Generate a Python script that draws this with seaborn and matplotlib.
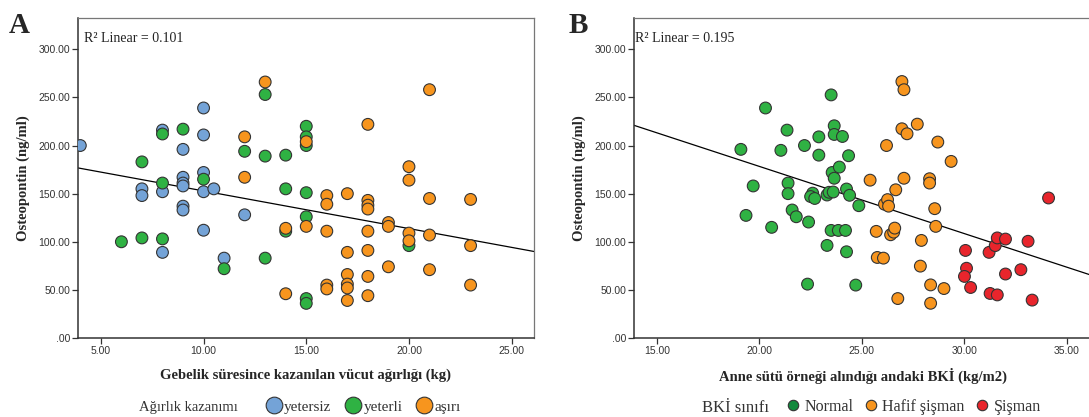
import matplotlib
matplotlib.use("Agg")
import numpy as np
import pandas as pd
import matplotlib.pyplot as plt
from matplotlib.lines import Line2D
from matplotlib.ticker import FuncFormatter
import seaborn as sns

# Panel A: gebelikte kazanilan kilo (kg) - osteopontin (ng/ml)
A_YETERSIZ_X = [4, 7, 7, 8, 8, 8, 9, 9, 9, 9, 9, 9, 10, 10, 10, 10, 10, 10.5, 11, 12]
A_YETERSIZ_Y = [200, 155, 148, 216, 152, 89, 196, 167, 161, 158, 137, 133,
                239, 211, 172, 152, 112, 155, 83, 128]
A_YETERLI_X = [6, 7, 7, 8, 8, 8, 9, 10, 11, 12, 13, 13, 13, 14, 14, 14,
               15, 15, 15, 15, 15, 15, 15, 20]
A_YETERLI_Y = [100, 183, 104, 212, 161, 103, 217, 165, 72, 194, 253, 189, 83,
               190, 155, 111, 220, 209, 200, 151, 126, 41, 36, 96]
A_ASIRI_X = [12, 12, 13, 14, 14, 15, 15, 16, 16, 16, 16, 16, 17, 17, 17, 17, 17, 17,
             18, 18, 18, 18, 18, 18, 18, 18, 19, 19, 19, 20, 20, 20, 20,
             21, 21, 21, 21, 23, 23, 23]
A_ASIRI_Y = [209, 167, 266, 114, 46, 204, 116, 148, 139, 111, 55, 51, 150, 89, 66, 56, 52, 39,
             222, 143, 138, 134, 111, 91, 64, 44, 120, 116, 74, 178, 164, 109, 101,
             258, 145, 107, 71, 144, 96, 55]
A_GROUPS = ['yetersiz', 'yeterli', 'aşırı']
A_R2 = 0.101

# Panel B: anne sutu orneginde BKI (kg/m2) - osteopontin (ng/ml)
B_NORMAL_X = [19.1, 19.7, 20.3, 21.05, 21.35, 21.4, 21.4, 21.6, 22.2, 22.9, 22.9,
              22.6, 22.5, 22.7, 23.3, 23.4, 23.6, 23.5, 23.65, 23.65, 24.05, 23.55,
              23.65, 23.9, 24.35, 24.25, 24.4, 24.85, 19.35, 20.6, 21.8, 22.4,
              23.5, 23.85, 24.2, 23.3, 24.25, 22.35, 24.7]
B_NORMAL_Y = [196, 158, 239, 195, 216, 161, 150, 133, 200, 209, 190,
              150.5, 147, 145, 148.6, 151.4, 151.7, 252.6, 220.5, 211.5, 209.4, 172,
              166, 177.6, 189.4, 154.8, 148.3, 137.5, 127.4, 115, 126, 120.5,
              111.8, 111.8, 111.8, 96.2, 89.6, 56, 55]
B_HAFIF_X = [25.4, 26.2, 26.1, 26.25, 26.3, 26.65, 27.05, 26.95, 27.05, 26.95, 27.2,
             27.7, 28.7, 29.35, 28.3, 28.3, 28.55, 25.7, 26.4, 26.55, 26.6, 25.75,
             26.05, 27.9, 27.85, 28.6, 28.35, 29.0, 26.75, 28.35]
B_HAFIF_Y = [164, 200, 139, 143.8, 137, 154, 166, 266.5, 258, 217.4, 212.2,
             222.2, 203.6, 183.5, 165.5, 161, 134.4, 110.8, 107.3, 110, 114.2, 83.7,
             83, 101.4, 74.7, 116, 55.2, 51.4, 41, 36.1]
B_SISMAN_X = [34.1, 30.05, 30.1, 30.0, 30.3, 31.2, 31.5, 31.6, 32.0, 33.1,
              32.0, 32.75, 31.25, 31.6, 33.3]
B_SISMAN_Y = [145.5, 91, 72.5, 64, 52.5, 89, 96, 104, 102.8, 100.5,
              66.5, 71, 46.3, 44.8, 39.4]
B_GROUPS = ['Normal', 'Hafif şişman', 'Şişman']
B_R2 = 0.195

Y_TICKS = [0, 50, 100, 150, 200, 250, 300]
A_X_TICKS = [5, 10, 15, 20, 25]
B_X_TICKS = [15, 20, 25, 30, 35]

C_BLUE = '#74a3d7'
C_GREEN = '#2fb243'
C_ORANGE = '#f7951e'
C_RED = '#e8252c'
EDGE = '#333333'

df_a = pd.DataFrame({
    'kilo': A_YETERSIZ_X + A_YETERLI_X + A_ASIRI_X,
    'opn': A_YETERSIZ_Y + A_YETERLI_Y + A_ASIRI_Y,
    'grup': [A_GROUPS[0]] * len(A_YETERSIZ_X) + [A_GROUPS[1]] * len(A_YETERLI_X)
            + [A_GROUPS[2]] * len(A_ASIRI_X),
})
df_b = pd.DataFrame({
    'bki': B_NORMAL_X + B_HAFIF_X + B_SISMAN_X,
    'opn': B_NORMAL_Y + B_HAFIF_Y + B_SISMAN_Y,
    'grup': [B_GROUPS[0]] * len(B_NORMAL_X) + [B_GROUPS[1]] * len(B_HAFIF_X)
            + [B_GROUPS[2]] * len(B_SISMAN_X),
})

sns.set_style("white")
plt.rcParams['font.family'] = ['Liberation Serif', 'DejaVu Serif']

SERIF = ['Liberation Serif', 'DejaVu Serif']
SANS = ['Liberation Sans', 'DejaVu Sans']


def fmt_spss(v, pos):
    return '.00' if v == 0 else f'{v:.2f}'


def style_axes(ax, xticks, xlim, xlabel):
    ax.set_xlim(*xlim)
    ax.set_ylim(0, 333)
    ax.set_xticks(xticks)
    ax.set_yticks(Y_TICKS)
    ax.xaxis.set_major_formatter(FuncFormatter(fmt_spss))
    ax.yaxis.set_major_formatter(FuncFormatter(fmt_spss))
    ax.tick_params(axis='both', direction='out', length=4, width=0.9, color='#333333',
                   labelsize=7.5, labelcolor='#333333', pad=1.5,
                   bottom=True, left=True, top=False, right=False)
    for lab in ax.get_xticklabels() + ax.get_yticklabels():
        lab.set_family(SANS)
    for side in ['left', 'bottom']:
        ax.spines[side].set_color('#333333')
        ax.spines[side].set_linewidth(1.1)
    for side in ['top', 'right']:
        ax.spines[side].set_color('#777777')
        ax.spines[side].set_linewidth(0.9)
    ax.set_xlabel(xlabel, fontsize=10.5, fontweight='bold', family=SERIF, labelpad=9)
    ax.set_ylabel('Osteopontin (ng/ml)', fontsize=10.5, fontweight='bold', family=SERIF,
                  labelpad=6)
    ax.grid(False)


fig = plt.figure(figsize=(10.89, 4.17), dpi=100)
ax_a = fig.add_axes([0.0713, 0.1894, 0.4193, 0.7686])
ax_b = fig.add_axes([0.5822, 0.1894, 0.4206, 0.7686])

# --- A ---
ax_a.set_xlim(3.87, 26.1)
sns.regplot(data=df_a, x='kilo', y='opn', ax=ax_a, scatter=False, ci=None,
            truncate=False, line_kws={'color': 'black', 'lw': 0.9})
sns.scatterplot(data=df_a, x='kilo', y='opn', hue='grup', hue_order=A_GROUPS,
                palette=[C_BLUE, C_GREEN, C_ORANGE], s=72, edgecolor=EDGE,
                linewidth=0.8, alpha=1, legend=False, ax=ax_a, zorder=3)
style_axes(ax_a, A_X_TICKS, (3.87, 26.1), 'Gebelik süresince kazanılan vücut ağırlığı (kg)')
ax_a.text(0.015, 0.955, f'R² Linear = {A_R2}', transform=ax_a.transAxes,
          fontsize=10, family=SERIF, va='top', ha='left', color='#222222')

# --- B ---
ax_b.set_xlim(13.89, 36.22)
sns.regplot(data=df_b, x='bki', y='opn', ax=ax_b, scatter=False, ci=None,
            truncate=False, line_kws={'color': 'black', 'lw': 0.9})
sns.scatterplot(data=df_b, x='bki', y='opn', hue='grup', hue_order=B_GROUPS,
                palette=[C_GREEN, C_ORANGE, C_RED], s=72, edgecolor=EDGE,
                linewidth=0.8, alpha=1, legend=False, ax=ax_b, zorder=3)
style_axes(ax_b, B_X_TICKS, (13.89, 36.22), 'Anne sütü örneği alındığı andaki BKİ (kg/m2)')
ax_b.text(0.003, 0.955, f'R² Linear = {B_R2}', transform=ax_b.transAxes,
          fontsize=10, family=SERIF, va='top', ha='left', color='#222222')

# panel harfleri
fig.text(0.008, 0.94, 'A', fontsize=21, fontweight='bold', family=SERIF, va='center')
fig.text(0.522, 0.94, 'B', fontsize=21, fontweight='bold', family=SERIF, va='center')

# legend A
fig.text(0.128, 0.022, 'Ağırlık kazanımı', fontsize=10.5, family=SERIF, va='center',
         color='#333333')
h_a = [Line2D([], [], marker='o', ls='', markersize=12, markerfacecolor=c,
              markeredgecolor=EDGE, markeredgewidth=0.8)
       for c in [C_BLUE, C_GREEN, C_ORANGE]]
leg_a = fig.legend(h_a, A_GROUPS, loc='center left', bbox_to_anchor=(0.232, 0.024), ncol=3,
                   frameon=False, handletextpad=0.15, columnspacing=0.95,
                   handlelength=1.0, prop={'family': SERIF, 'size': 11})
for t in leg_a.get_texts():
    t.set_color('#333333')

# legend B
fig.text(0.645, 0.022, 'BKİ sınıfı', fontsize=12, family=SERIF, va='center',
         color='#333333')
h_b = [Line2D([], [], marker='o', ls='', markersize=7.5, markerfacecolor=c,
              markeredgecolor=EDGE, markeredgewidth=0.8)
       for c in ['#13893d', C_ORANGE, C_RED]]
leg_b = fig.legend(h_b, B_GROUPS, loc='center left', bbox_to_anchor=(0.708, 0.024), ncol=3,
                   frameon=False, handletextpad=0.2, columnspacing=0.6,
                   handlelength=1.0, prop={'family': SERIF, 'size': 11.5})
for t in leg_b.get_texts():
    t.set_color('#333333')

fig.savefig('out.png', dpi=100)
